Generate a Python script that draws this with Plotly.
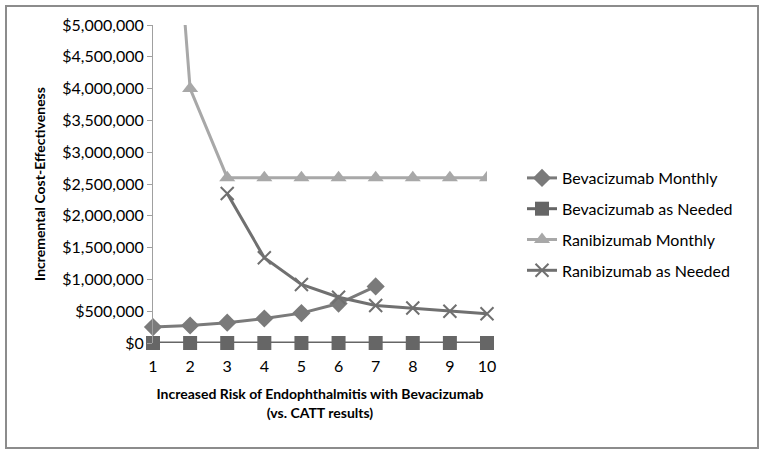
import plotly.graph_objects as go

x_vals = [1, 2, 3, 4, 5, 6, 7, 8, 9, 10]
bev_monthly_x = [1, 2, 3, 4, 5, 6, 7]
bev_monthly = [250000, 275000, 320000, 385000, 470000, 620000, 890000]
bev_needed = [0, 0, 0, 0, 0, 0, 0, 0, 0, 0]
ran_monthly = [11500000, 4000000, 2600000, 2600000, 2600000, 2600000, 2600000, 2600000, 2600000, 2600000]
ran_needed_x = [3, 4, 5, 6, 7, 8, 9, 10]
ran_needed = [2350000, 1340000, 920000, 720000, 590000, 550000, 500000, 460000]
y_ticks = [0, 500000, 1000000, 1500000, 2000000, 2500000, 3000000, 3500000, 4000000, 4500000, 5000000]
y_labels = ["$0", "$500,000", "$1,000,000", "$1,500,000", "$2,000,000", "$2,500,000",
            "$3,000,000", "$3,500,000", "$4,000,000", "$4,500,000", "$5,000,000"]

FONT = "Lato, 'Open Sans', sans-serif"

L, R, T, B = 153, 487, 25, 343
W, H = R - L, B - T

fig = go.Figure()
fig.add_trace(go.Scatter(x=bev_monthly_x, y=bev_monthly, name="Bevacizumab Monthly",
                         mode="lines+markers", legendgroup="a", cliponaxis=False,
                         line=dict(color="#7a7a7a", width=3),
                         marker=dict(symbol="diamond", size=14, color="#7a7a7a")))
fig.add_trace(go.Scatter(x=x_vals, y=bev_needed, name="Bevacizumab as Needed",
                         mode="lines+markers", legendgroup="b", cliponaxis=False,
                         line=dict(color="#666666", width=3),
                         marker=dict(symbol="square", size=14, color="#666666")))
fig.add_trace(go.Scatter(x=x_vals, y=ran_monthly, name="Ranibizumab Monthly",
                         mode="lines+markers", legendgroup="c",
                         line=dict(color="#a8a8a8", width=3),
                         marker=dict(symbol="triangle-up", size=14, color="#a8a8a8")))
fig.add_trace(go.Scatter(x=ran_needed_x, y=ran_needed, name="Ranibizumab as Needed",
                         mode="lines+markers", legendgroup="d", cliponaxis=False,
                         line=dict(color="#707070", width=3),
                         marker=dict(symbol="x-thin", size=13,
                                     line=dict(color="#707070", width=2))))

fig.add_shape(type="rect", xref="paper", yref="paper",
              x0=(6 - L) / W, x1=(758 - L) / W,
              y0=(B - 448) / H, y1=(B - 6) / H,
              line=dict(color="#8c8c8c", width=2), layer="below")

fig.update_layout(
    width=764, height=455,
    margin=dict(l=L, r=764 - R, t=T, b=455 - B, autoexpand=False),
    paper_bgcolor="white", plot_bgcolor="white",
    font=dict(family=FONT, size=16, color="#000000"),
    showlegend=True,
    legend=dict(x=(522 - L) / W, y=(B - 161) / H, xanchor="left", yanchor="top",
                font=dict(size=16), tracegroupgap=7, bgcolor="rgba(0,0,0,0)"),
    xaxis=dict(range=[1, 10], tickvals=x_vals, showgrid=False, zeroline=False,
               showline=False, ticks="", tickfont=dict(size=16), ticklabelstandoff=12,
               automargin=False,
               title=dict(text="<b>Increased Risk of Endophthalmitis with Bevacizumab<br>(vs. CATT results)</b>",
                          font=dict(size=14), standoff=15)),
    yaxis=dict(range=[0, 5000000], tickvals=y_ticks, ticktext=y_labels, showgrid=False,
               zeroline=False, showline=True, linecolor="#a0a0a0", linewidth=1,
               ticks="outside", ticklen=5, tickcolor="#a0a0a0", tickfont=dict(size=16),
               automargin=False,
               title=dict(text="<b>Incremental Cost-Effectiveness</b>", font=dict(size=14), standoff=13)),
)
fig.add_shape(type="line", xref="paper", yref="y", x0=0, x1=1, y0=0, y1=0,
              line=dict(color="#a0a0a0", width=1), layer="below")

fig.write_html("out.html", config={"displayModeBar": False},
               post_script="document.body.style.margin='0';")
